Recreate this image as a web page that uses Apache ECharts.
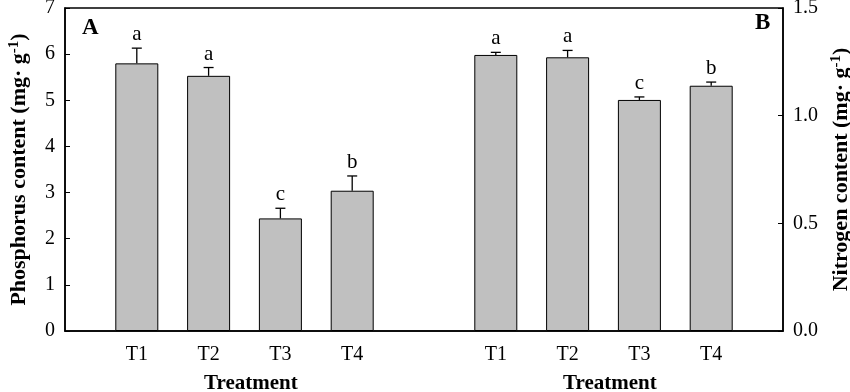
<!DOCTYPE html>
<html><head><meta charset="utf-8">
<script src="https://cdn.jsdelivr.net/npm/echarts@6/dist/echarts.min.js"></script>
<style>html,body{margin:0;padding:0;background:#fff}#c{width:850px;height:392px}</style>
</head><body><div id="c"></div>
<script>
var treatments = ['T1','T2','T3','T4'];
var pX = [1,2,3,4];
var nX = [6,7,8,9];
var phosphorus = [5.80, 5.53, 2.44, 3.04];
var phosphorusErr = [0.33, 0.18, 0.22, 0.32];
var phosphorusLetters = ['a','a','c','b'];
var nitrogen = [1.282, 1.271, 1.073, 1.139];
var nitrogenErr = [0.012, 0.032, 0.014, 0.017];
var nitrogenLetters = ['a','a','c','b'];
var leftTicks = [0,1,2,3,4,5,6,7];
var rightTicks = ['0.0','0.5','1.0','1.5'];

var FONT = '"Liberation Serif","Times New Roman",serif';
var chart = echarts.init(document.getElementById('c'), null, {renderer:'canvas'});

function pairs(xs, ys){ return xs.map(function(x,i){ return [x, ys[i]]; }); }
function errData(xs, ys, es){ return xs.map(function(x,i){ return [x, ys[i], es[i]]; }); }

var labelMap = {};
pX.forEach(function(x,i){ labelMap[x] = treatments[i]; });
nX.forEach(function(x,i){ labelMap[x] = treatments[i]; });

function makeErr(letters){
  return function(params, api){
    var x = api.value(0), y = api.value(1), e = api.value(2);
    var letter = letters[params.dataIndex];
    var p0 = api.coord([x, y]);
    var p1 = api.coord([x, y + e]);
    var cap = 5;
    return {
      type:'group',
      children:[
        {type:'line', shape:{x1:p0[0], y1:p0[1], x2:p1[0], y2:p1[1]}, style:{stroke:'#000', lineWidth:1.3}},
        {type:'line', shape:{x1:p1[0]-cap, y1:p1[1], x2:p1[0]+cap, y2:p1[1]}, style:{stroke:'#000', lineWidth:1.3}},
        {type:'text', x:p1[0], y:p1[1]-3, style:{text:letter, fill:'#000', font:'21px '+FONT, textAlign:'center', textVerticalAlign:'bottom'}}
      ]
    };
  };
}

var titleRich = {
  t:{fontFamily:FONT, fontWeight:'bold', fontSize:22, color:'#000'},
  s:{fontFamily:FONT, fontWeight:'bold', fontSize:15, color:'#000', verticalAlign:'top', padding:[0,0,10,0]}
};

var option = {
  backgroundColor:'#fff',
  animation:false,
  grid:{left:65, right:67, top:8, bottom:61, outerBoundsMode:'none', containLabel:false, show:true, borderColor:'#000', borderWidth:1.5, backgroundColor:'#fff'},
  xAxis:{
    type:'value', min:0, max:10, interval:1,
    axisLine:{show:true, lineStyle:{color:'#000', width:1.5}},
    axisTick:{show:false},
    splitLine:{show:false},
    axisLabel:{color:'#000', fontFamily:FONT, fontSize:20, margin:14,
      formatter:function(v){ return labelMap[v] || ''; }}
  },
  yAxis:[
    {type:'value', min:0, max:7, interval:1, position:'left',
     name:'{t|Phosphorus content (mg· g}{s|-1}{t|)}', nameLocation:'middle', nameGap:33, nameRotate:90,
     nameTextStyle:{rich:titleRich},
     axisLine:{show:true, lineStyle:{color:'#000', width:1.5}},
     axisTick:{show:true, inside:true, length:5, lineStyle:{color:'#000'}},
     splitLine:{show:false},
     axisLabel:{color:'#000', fontFamily:FONT, fontSize:20, margin:10,
       formatter:function(v){ return String(leftTicks[Math.round(v)]); }}
    },
    {type:'value', min:0, max:1.5, interval:0.5, position:'right',
     name:'{t|Nitrogen content (mg· g}{s|-1}{t|)}', nameLocation:'middle', nameGap:41, nameRotate:90,
     nameTextStyle:{rich:titleRich},
     axisLine:{show:true, lineStyle:{color:'#000', width:1.5}},
     axisTick:{show:true, inside:true, length:5, lineStyle:{color:'#000'}},
     splitLine:{show:false},
     axisLabel:{color:'#000', fontFamily:FONT, fontSize:20, margin:10,
       formatter:function(v){ return rightTicks[Math.round(v/0.5)]; }}
    }
  ],
  graphic:[
    {type:'text', left:82, top:17, style:{text:'A', font:'bold 23px '+FONT, fill:'#000'}},
    {type:'text', left:755, top:12, style:{text:'B', font:'bold 23px '+FONT, fill:'#000'}},
    {type:'text', left:204, top:373, style:{text:'Treatment', font:'bold 21px '+FONT, fill:'#000'}},
    {type:'text', left:563, top:373, style:{text:'Treatment', font:'bold 21px '+FONT, fill:'#000'}}
  ],
  series:[
    {type:'bar', xAxisIndex:0, yAxisIndex:0, barWidth:43, barGap:'-100%',
     itemStyle:{color:'#c0c0c0', borderColor:'#000', borderWidth:1},
     data:pairs(pX, phosphorus)},
    {type:'bar', xAxisIndex:0, yAxisIndex:1, barWidth:43, barGap:'-100%',
     itemStyle:{color:'#c0c0c0', borderColor:'#000', borderWidth:1},
     data:pairs(nX, nitrogen)},
    {type:'custom', xAxisIndex:0, yAxisIndex:0, renderItem:makeErr(phosphorusLetters), data:errData(pX, phosphorus, phosphorusErr), z:5},
    {type:'custom', xAxisIndex:0, yAxisIndex:1, renderItem:makeErr(nitrogenLetters), data:errData(nX, nitrogen, nitrogenErr), z:5}
  ]
};
chart.setOption(option);
</script>
</body></html>
